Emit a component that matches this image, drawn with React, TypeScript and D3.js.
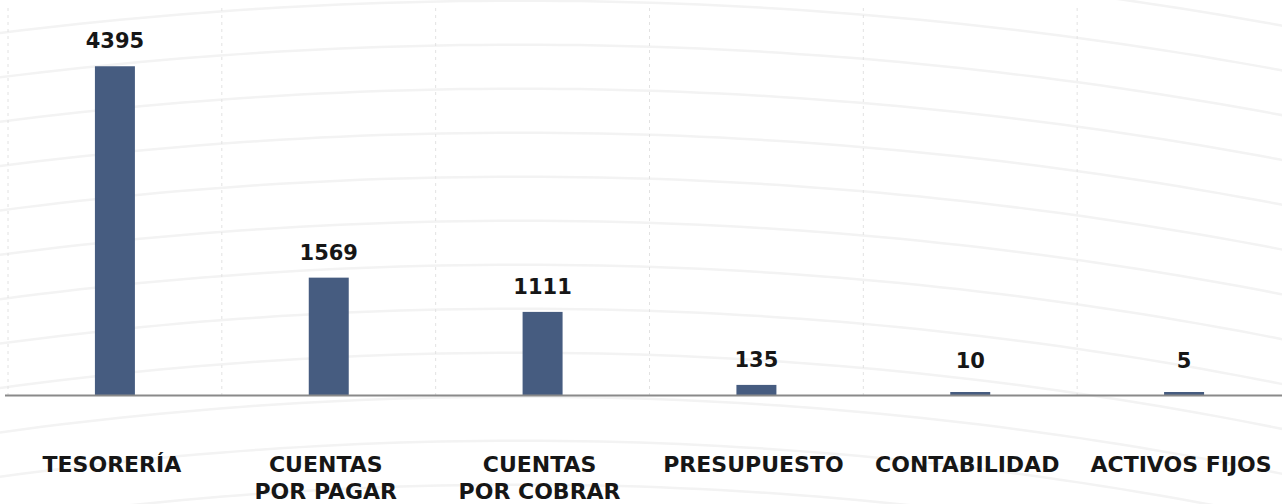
import React from "react";
import * as d3 from "d3";

const categories: string[][] = [
  ["TESORERÍA"],
  ["CUENTAS", "POR PAGAR"],
  ["CUENTAS", "POR COBRAR"],
  ["PRESUPUESTO"],
  ["CONTABILIDAD"],
  ["ACTIVOS FIJOS"],
];
const values: number[] = [4395, 1569, 1111, 135, 10, 5];
const yDomainMax = 5000;

const W = 1282;
const H = 504;
const FONT = "'DejaVu Sans', sans-serif";

export default function App() {
  const keys = categories.map((c) => c.join(" "));
  const x = d3
    .scaleBand<string>()
    .domain(keys)
    .range([8, 1291])
    .paddingInner(0.813)
    .paddingOuter(0.4065);
  const y = d3.scaleLinear().domain([0, yDomainMax]).range([395, 21]);
  const y0 = y(0);
  const step = x.step();
  const gridXs = d3.range(keys.length + 1).map((i) => 8 + i * step);

  // decorative concentric arcs in the background
  const cx = 520;
  const baseR = 4200;
  const cy = 33 + Math.sqrt(baseR * baseR - cx * cx);
  const arcs = d3.range(-1, 13).map((k) => {
    const R = baseR - 44 * k;
    const pts: [number, number][] = d3.range(0, W + 21, 20).map((px) => [
      px,
      cy - Math.sqrt(R * R - (px - cx) * (px - cx)),
    ]);
    return d3.line()(pts) as string;
  });

  return (
    <svg
      width={W}
      height={H}
      style={{ position: "absolute", left: 0, top: 0, background: "#fff" }}
    >
      <g>
        {arcs.map((d, i) => (
          <path key={i} d={d} fill="none" stroke="#f3f3f3" strokeWidth={2.5} />
        ))}
      </g>
      <g>
        {gridXs.map((gx, i) => (
          <line
            key={i}
            x1={gx}
            x2={gx}
            y1={8}
            y2={y0}
            stroke="#e2e2e2"
            strokeWidth={1}
            strokeDasharray="3 4"
          />
        ))}
      </g>
      <g>
        {values.map((v, i) => {
          const bx = x(keys[i]) as number;
          const top = Math.min(y(v), y0 - 3);
          return (
            <g key={i}>
              <rect
                x={bx}
                y={top}
                width={x.bandwidth()}
                height={y0 - top}
                fill="#465c80"
              />
              <text
                x={bx + x.bandwidth() / 2}
                y={Math.min(y(v), y0 - 9) - 18}
                textAnchor="middle"
                fontFamily={FONT}
                fontWeight="bold"
                fontSize={21}
                fill="#161616"
              >
                {v}
              </text>
            </g>
          );
        })}
      </g>
      <line x1={5} x2={W} y1={y0 + 0.5} y2={y0 + 0.5} stroke="#8a8a8a" strokeWidth={2} />
      <g>
        {categories.map((lines, i) => {
          const cxm = (x(keys[i]) as number) + x.bandwidth() / 2 - 3;
          return (
            <text
              key={i}
              textAnchor="middle"
              fontFamily={FONT}
              fontWeight="bold"
              fontSize={22}
              fill="#161616"
            >
              {lines.map((l, j) => (
                <tspan key={j} x={cxm} y={472 + j * 27}>
                  {l}
                </tspan>
              ))}
            </text>
          );
        })}
      </g>
    </svg>
  );
}
